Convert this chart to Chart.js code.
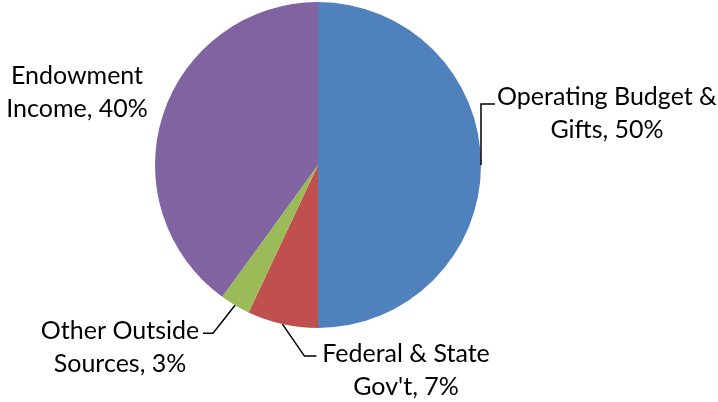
<!doctype html>
<html lang="en">
  <head>
    <meta charset="utf-8">
    <title>Funding sources</title>
    <style>
      html, body { margin: 0; padding: 0; background: #fff; }
      #wrap { width: 718px; height: 402px; position: relative; }
    </style>
  </head>
  <body>
    <div id="wrap"><canvas id="pie_chart" width="718" height="402"></canvas></div>

    <script src="https://cdn.jsdelivr.net/npm/chart.js"></script>
    <script>
        const categories = ['Operating Budget & Gifts', 'Federal & State Gov\'t', 'Other Outside Sources', 'Endowment Income'];
        const shares = [50, 7, 3, 40];
        const labelLines = [
            ['Operating Budget &', 'Gifts, 50%'],
            ['Federal & State', 'Gov\'t, 7%'],
            ['Other Outside', 'Sources, 3%'],
            ['Endowment', 'Income, 40%']
        ];
        const colors = ['#4F81BD', '#C0504D', '#9BBB59', '#8064A2'];

        // where each label sits, and the leader line bends (offsets from the slice edge point)
        const labelSpots = [
            { x: 607, y: 97, bends: [[0, -61], [14, -61]] },
            { x: 406, y: 354, bends: [[22, 32], [34, 32]] },
            { x: 120, y: 331, bends: [[-22, 28], [-32, 28]] },
            { x: 77, y: 76, bends: null }
        ];

        const pieLabels = {
            id: 'pieLabels',
            afterDatasetsDraw(chart) {
                const ctx = chart.ctx;
                const arcs = chart.getDatasetMeta(0).data;
                ctx.save();
                arcs.forEach(function(arc, i) {
                    const p = arc.getProps(['x', 'y', 'startAngle', 'endAngle', 'outerRadius'], true);
                    const mid = (p.startAngle + p.endAngle) / 2;
                    const ex = p.x + Math.cos(mid) * p.outerRadius;
                    const ey = p.y + Math.sin(mid) * p.outerRadius;
                    const spot = labelSpots[i];
                    if (spot.bends) {
                        ctx.beginPath();
                        ctx.strokeStyle = '#000';
                        ctx.lineWidth = 1.5;
                        ctx.moveTo(ex, ey);
                        spot.bends.forEach(function(b) { ctx.lineTo(ex + b[0], ey + b[1]); });
                        ctx.stroke();
                    }
                    ctx.fillStyle = '#000';
                    ctx.font = '25px Lato, "DejaVu Sans", sans-serif';
                    ctx.textAlign = 'center';
                    ctx.textBaseline = 'middle';
                    labelLines[i].forEach(function(t, k) {
                        ctx.fillText(t, spot.x, spot.y + k * 33);
                    });
                });
                ctx.restore();
            }
        };

        new Chart(document.getElementById('pie_chart'), {
            type: 'pie',
            data: {
                labels: categories,
                datasets: [{
                    data: shares,
                    backgroundColor: colors,
                    borderWidth: 0
                }]
            },
            options: {
                responsive: false,
                animation: false,
                events: [],
                layout: { padding: { top: 2, bottom: 74, left: 155, right: 237 } },
                plugins: {
                    legend: { display: false },
                    tooltip: { enabled: false }
                }
            },
            plugins: [pieLabels]
        });
    </script>
  </body>
</html>
